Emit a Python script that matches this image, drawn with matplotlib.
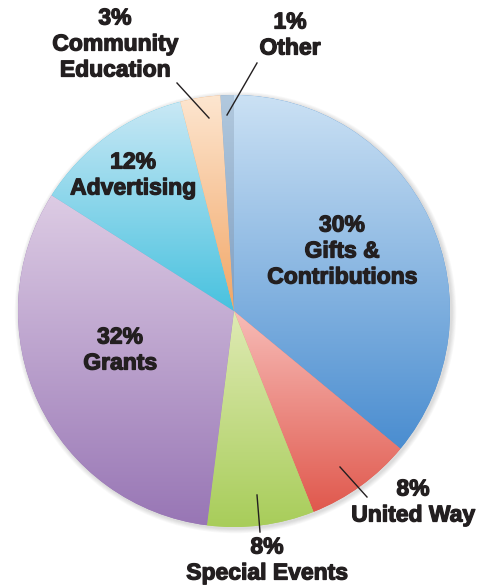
import numpy as np
import matplotlib.pyplot as plt
import matplotlib.patheffects as pe
from matplotlib.colors import LinearSegmentedColormap
from matplotlib.patches import Circle

# slice sizes as drawn (clockwise from 12 o'clock)
categories = ['Gifts &\nContributions', 'United Way', 'Special Events', 'Grants',
              'Advertising', 'Community\nEducation', 'Other']
values = [36, 8, 8, 32, 12, 3, 1]
pct_labels = ['30%', '8%', '8%', '32%', '12%', '3%', '1%']

# light (top) -> dark (bottom) gradient per slice
top_colors = ['#cbe1f4', '#f7bcb7', '#dfeab4', '#ddcce4', '#c9e8f5', '#fde6d0', '#b2c9de']
bottom_colors = ['#4a8dd0', '#e0584d', '#a8cd5a', '#9876b5', '#48c2df', '#f2a666', '#7f9fc2']

W, H = 488, 586
cx, cy, R = 234, H - 311, 216

fig = plt.figure(figsize=(W / 100, H / 100), dpi=100)
ax = fig.add_axes([0, 0, 1, 1])

# soft shadow around the pie
for k in range(1, 7):
    ax.add_patch(Circle((cx + 1.5, cy - 1.5), R + k * 0.8, color='#000000',
                        alpha=0.025, lw=0, zorder=0))

wedges, _ = ax.pie(values, center=(cx, cy), radius=R, startangle=90,
                   counterclock=False, colors=bottom_colors,
                   wedgeprops=dict(linewidth=0))

grad = np.linspace(0, 1, 256).reshape(-1, 1)
for w, c1, c2 in zip(wedges, top_colors, bottom_colors):
    w.set_zorder(1)
    t = np.radians(np.linspace(w.theta1, w.theta2, 100))
    xs = np.concatenate([[cx], cx + R * np.cos(t)])
    ys = np.concatenate([[cy], cy + R * np.sin(t)])
    cmap = LinearSegmentedColormap.from_list('g', [c2, c1])
    im = ax.imshow(grad, extent=[xs.min(), xs.max(), ys.min(), ys.max()],
                   cmap=cmap, origin='lower', aspect='auto', zorder=2)
    im.set_clip_path(w)

txt = dict(ha='center', va='center', fontsize=16.5, fontweight='bold',
           color='#231f20', family=['Liberation Sans', 'DejaVu Sans'], zorder=5,
           path_effects=[pe.withStroke(linewidth=0.9, foreground='#231f20')])

# label positions in pixels (x, y of first line), line step 26 px
label_pos = [(342, 225), (413, 489), (267, 547), (120, 337), (133, 162), (115, 18), (290, 22)]
for (lx, ly), pct, cat in zip(label_pos, pct_labels, categories):
    lines = [pct] + cat.split('\n')
    for i, s in enumerate(lines):
        ax.text(lx, H - (ly + 26 * i), s, **txt)

# leader lines
leaders = [((177, 83), (209, 118)), ((257, 63), (227, 115)),
           ((340, 467), (367, 497)), ((257, 495), (260, 532))]
for (x0, y0), (x1, y1) in leaders:
    ax.plot([x0, x1], [H - y0, H - y1], color='#231f20', lw=1.0, zorder=4)

ax.set_xlim(0, W)
ax.set_ylim(0, H)
ax.set_aspect('equal')
ax.axis('off')
fig.savefig('out.png', dpi=100)
